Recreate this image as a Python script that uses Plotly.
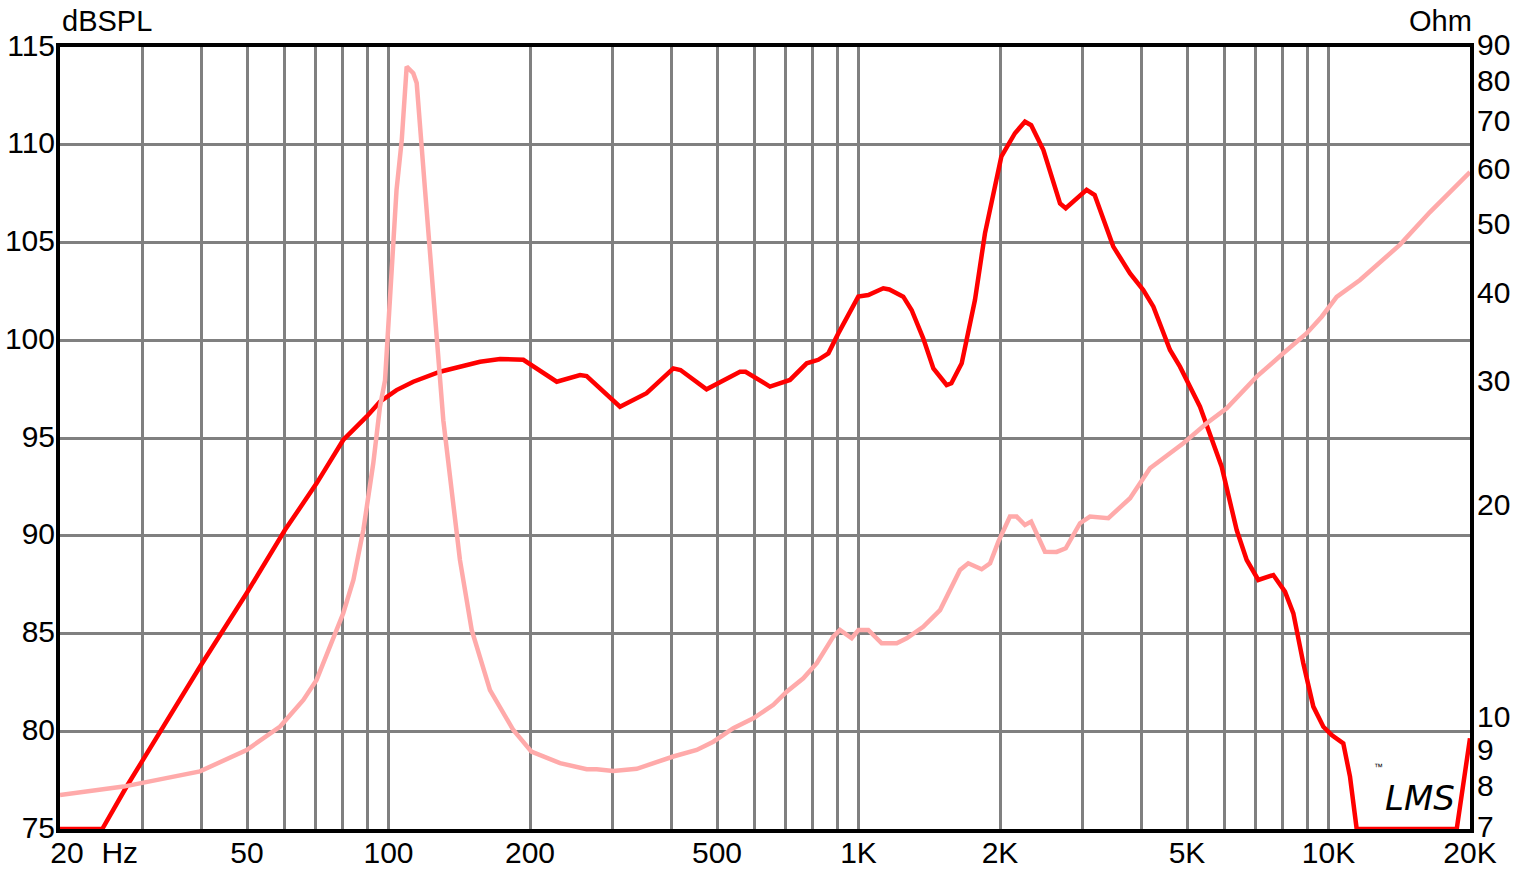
import plotly.graph_objects as go

# ── data ───────────────────────────────────────────────────────────────────

spl_freq = [
    20, 24.6, 27.7, 39.7, 49.9, 60.2, 70.3, 80.1, 89.8, 95.9,
    104, 112.9, 128.7, 156.6, 172.7, 193.6, 228, 255.6, 264, 310.8,
    354, 403.6, 418, 475, 559.6, 575, 648, 714.8, 775.8, 821,
    862.6, 905.8, 998.8, 1049, 1129, 1163, 1245, 1297, 1373, 1443,
    1540, 1576, 1658, 1769, 1858, 1952, 2013, 2152, 2260, 2330,
    2474, 2684, 2760, 3057, 3180, 3484, 3782, 4036, 4240, 4600,
    4830, 5328, 5596, 5925, 6377, 6698, 7090, 7630, 8080, 8418,
    8838, 9283, 9750, 10156, 10750, 11110, 11480, 18740, 20000,
]
spl_db = [
    75, 75, 77.16, 83.3, 87.06, 90.29, 92.68, 94.9, 96.09, 96.86,
    97.45, 97.88, 98.39, 98.9, 99.04, 99.0, 97.88, 98.22, 98.17, 96.6,
    97.29, 98.56, 98.48, 97.49, 98.39, 98.39, 97.63, 97.97, 98.82, 99.0,
    99.33, 100.35, 102.23, 102.31, 102.66, 102.6, 102.23, 101.55, 100.1, 98.56,
    97.71, 97.8, 98.82, 102.06, 105.47, 108.03, 109.39, 110.59, 111.18, 111.0,
    109.73, 107.0, 106.75, 107.69, 107.43, 104.79, 103.42, 102.57, 101.72, 99.5,
    98.65, 96.6, 95.24, 93.53, 90.29, 88.76, 87.74, 87.99, 87.14, 86.03,
    83.48, 81.26, 80.23, 79.81, 79.38, 77.68, 75, 75, 79.64,
]

imp_freq = [
    20, 27.3, 39.7, 49.9, 58.8, 65.9, 70.3, 75.1, 80.1, 84.2,
    88.4, 92.8, 95.9, 98.3, 104, 106.7, 109.3, 112.9, 114.8, 119.6,
    125.6, 130.8, 141.9, 150.3, 164.4, 184.3, 201.4, 231.7, 264, 277.4,
    300.9, 337.4, 403.6, 452.6, 491, 541.5, 597.4, 658.8, 703.4, 763,
    815, 883.8, 913, 967, 1000, 1049, 1120, 1206, 1266, 1373,
    1491, 1566, 1644, 1712, 1828, 1905, 1984, 2100, 2170, 2260,
    2330, 2493, 2640, 2760, 2960, 3108, 3400, 3782, 4170, 4910,
    5506, 6072, 7034, 8012, 8988, 9672, 10408, 11668, 14196, 16440,
    20000,
]
imp_ohm = [
    7.82, 8.04, 8.45, 9.06, 9.78, 10.67, 11.39, 12.7, 14.16, 15.79,
    18.59, 23.1, 27.8, 30.3, 56.4, 66.4, 84.4, 82.6, 80.0, 56.4,
    36.9, 26.6, 16.85, 13.41, 11.02, 9.67, 9.01, 8.68, 8.51, 8.51,
    8.46, 8.52, 8.87, 9.06, 9.31, 9.73, 10.05, 10.5, 10.96, 11.45,
    12.03, 13.12, 13.41, 13.05, 13.41, 13.41, 12.84, 12.84, 13.05, 13.55,
    14.31, 15.28, 16.31, 16.67, 16.35, 16.67, 17.89, 19.42, 19.42, 18.89,
    19.1, 17.31, 17.3, 17.51, 19.0, 19.42, 19.32, 20.62, 22.74, 24.67,
    26.34, 27.66, 30.67, 33.1, 35.34, 37.3, 39.8, 42.05, 47.2, 52.5,
    59.8,
]

# axis ticks / labels
x_tick_vals = [20.7, 26.8, 50, 100, 200, 500, 1000, 2000, 5000, 10000, 20000]
x_tick_text = ["20", "Hz", "50", "100", "200", "500", "1K", "2K", "5K", "10K", "20K"]
x_grid = ([30, 40, 50, 60, 70, 80, 90]
          + [100 * k for k in range(1, 10)]
          + [1000 * k for k in range(1, 10)]
          + [10000])
db_ticks = [75, 80, 85, 90, 95, 100, 105, 110, 115]
ohm_ticks = [7, 8, 9, 10, 20, 30, 40, 50, 60, 70, 80, 90]

FONT = "Liberation Sans, Arial, sans-serif"
GRID = "#808080"

fig = go.Figure()

fig.add_trace(go.Scatter(
    x=imp_freq, y=imp_ohm, yaxis="y2", mode="lines",
    line=dict(color="#ffaaaa", width=4.5),
    showlegend=False,
))
fig.add_trace(go.Scatter(
    x=spl_freq, y=spl_db, mode="lines",
    line=dict(color="#ff0000", width=4.5),
    showlegend=False,
))

fig.update_layout(
    width=1519, height=870,
    margin=dict(l=60, r=49, t=47, b=41),
    paper_bgcolor="white",
    plot_bgcolor="white",
    font=dict(family=FONT, size=30, color="black"),
    xaxis=dict(
        type="log",
        range=[1.30103, 4.30103],
        tickvals=x_tick_vals, ticktext=x_tick_text,
        showgrid=False, ticks="", automargin=False, ticklabelstandoff=-6,
        minor=dict(tickvals=x_grid, showgrid=True, gridcolor=GRID, gridwidth=2.5, ticks=""),
        showline=True, linecolor="black", linewidth=4, mirror=True,
        zeroline=False, layer="below traces",
    ),
    yaxis=dict(
        range=[75, 115],
        tickvals=db_ticks,
        showgrid=True, gridcolor=GRID, gridwidth=2.5,
        ticks="", ticklabelstandoff=-5, ticklabelshift=-2, automargin=False,
        showline=True, linecolor="black", linewidth=4, mirror=True,
        zeroline=False, layer="below traces",
    ),
    yaxis2=dict(
        type="log",
        range=[0.845098, 1.954243],
        tickvals=ohm_ticks,
        overlaying="y", side="right",
        showgrid=False, ticks="", automargin=False,
        ticklabelstandoff=-3, ticklabelshift=-3,
        showline=True, linecolor="black", linewidth=4,
        zeroline=False,
    ),
)

fig.add_annotation(text="dBSPL", xref="paper", yref="paper", x=0, y=1,
                   xanchor="left", yanchor="bottom", showarrow=False, yshift=8,
                   font=dict(size=29))
fig.add_annotation(text="Ohm", xref="paper", yref="paper", x=1.003, y=1,
                   xanchor="right", yanchor="bottom", showarrow=False, yshift=8,
                   font=dict(size=29))

# LMS logo
fig.add_annotation(text="<i>LMS</i>", xref="paper", yref="paper", x=0.9645, y=0.04,
                   xanchor="center", yanchor="middle", showarrow=False,
                   font=dict(size=34, family="DejaVu Sans, sans-serif"))
fig.add_annotation(text="™", xref="paper", yref="paper", x=0.94, y=0.07,
                   showarrow=False, font=dict(size=9))

fig.write_html("out.html", config={"displayModeBar": False},
               post_script="document.body.style.margin='0';")
